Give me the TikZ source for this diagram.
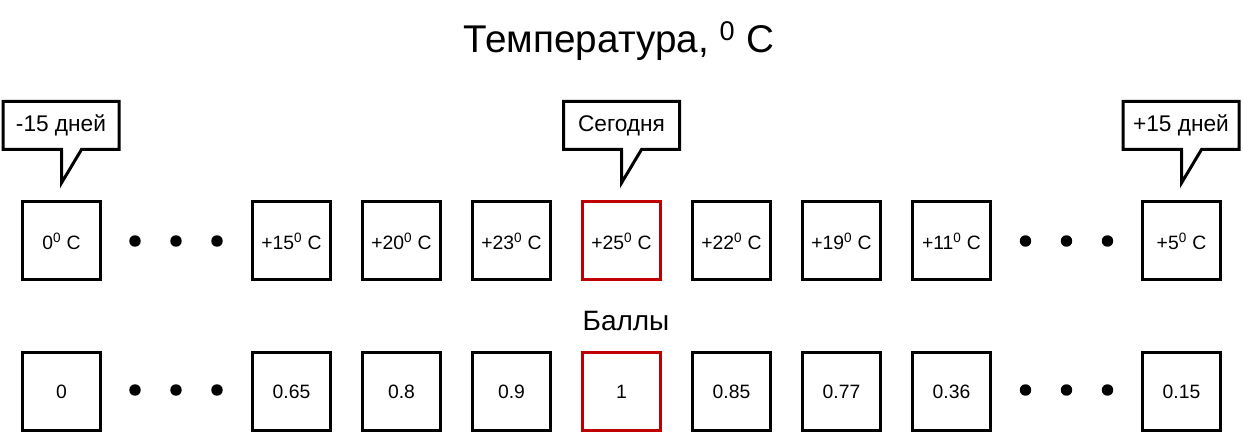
\documentclass[tikz,border=0pt]{standalone}
\usepackage{fontspec}
\setmainfont{Liberation Sans}
\definecolor{todayred}{RGB}{192,0,0}
\tikzset{
  cell/.style={draw, line width=2.25pt, minimum size=58.5pt, inner sep=0pt,
    font=\fontsize{14.5}{17}\selectfont},
  today/.style={cell, draw=todayred},
  bubble/.style={minimum width=87pt, minimum height=36pt, inner sep=0pt, outer sep=0pt,
    font=\fontsize{17}{20}\selectfont},
  bubbleline/.style={line width=2.25pt, line join=miter},
  dot/.style={fill=black}
}
\begin{document}
\begin{tikzpicture}[x=0.75pt,y=-0.75pt]
  \useasboundingbox (0,0) rectangle (1243,434);
  \node[anchor=base, font=\fontsize{29}{34}\selectfont] (title) at (619,53) {Температура, \textsuperscript{0} C};

  % temperatures
  \node[cell] (t1) at (61.5,241) {0\textsuperscript{0} C};
  \node[cell] (t2) at (291.5,241) {+15\textsuperscript{0} C};
  \node[cell] (t3) at (401.5,241) {+20\textsuperscript{0} C};
  \node[cell] (t4) at (511.5,241) {+23\textsuperscript{0} C};
  \node[today] (t5) at (621.5,241) {+25\textsuperscript{0} C};
  \node[cell] (t6) at (731.5,241) {+22\textsuperscript{0} C};
  \node[cell] (t7) at (841.5,241) {+19\textsuperscript{0} C};
  \node[cell] (t8) at (951.5,241) {+11\textsuperscript{0} C};
  \node[cell] (t9) at (1181.5,241) {+5\textsuperscript{0} C};

  \node[anchor=base, font=\fontsize{21}{24}\selectfont] (balls) at (626,331) {Баллы};

  % scores
  \node[cell] (b1) at (61.5,392) {0};
  \node[cell] (b2) at (291.5,392) {0.65};
  \node[cell] (b3) at (401.5,392) {0.8};
  \node[cell] (b4) at (511.5,392) {0.9};
  \node[today] (b5) at (621.5,392) {1};
  \node[cell] (b6) at (731.5,392) {0.85};
  \node[cell] (b7) at (841.5,392) {0.77};
  \node[cell] (b8) at (951.5,392) {0.36};
  \node[cell] (b9) at (1181.5,392) {0.15};

  % dots
  \fill[dot] (135,241) circle (4.3pt) (176,241) circle (4.3pt) (217,241) circle (4.3pt);
  \fill[dot] (1025.5,241) circle (4.3pt) (1066.5,241) circle (4.3pt) (1107.5,241) circle (4.3pt);
  \fill[dot] (135,390) circle (4.3pt) (176,390) circle (4.3pt) (217,390) circle (4.3pt);
  \fill[dot] (1025.5,390) circle (4.3pt) (1066.5,390) circle (4.3pt) (1107.5,390) circle (4.3pt);

  % callouts
  \node[bubble] (c1) at (61,125.5) {-15 дней};
  \node[bubble] (c2) at (621.5,125.5) {Сегодня};
  \node[bubble] (c3) at (1181,125.5) {+15 дней};
  \coordinate (p1) at (61.5,183);
  \coordinate (q1) at (81.5,149.5);
  \coordinate (p2) at (621.5,183);
  \coordinate (q2) at (641.5,149.5);
  \coordinate (p3) at (1181.5,183);
  \coordinate (q3) at (1201.5,149.5);
  \draw[bubbleline] (c1.south -| p1) -- (c1.south west) |- (c1.north east) |- (q1) -- (p1) -- cycle;
  \draw[bubbleline] (c2.south -| p2) -- (c2.south west) |- (c2.north east) |- (q2) -- (p2) -- cycle;
  \draw[bubbleline] (c3.south -| p3) -- (c3.south west) |- (c3.north east) |- (q3) -- (p3) -- cycle;
\end{tikzpicture}
\end{document}
